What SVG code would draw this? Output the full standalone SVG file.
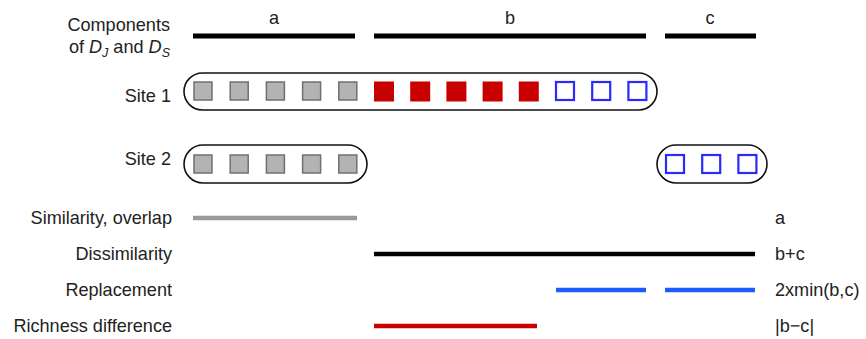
<svg xmlns="http://www.w3.org/2000/svg" width="866" height="339" viewBox="0 0 866 339">
<style>
text{font-family:"Liberation Sans",Arial,sans-serif;font-size:18.1px;fill:#222}
.r{text-anchor:end}
.m{text-anchor:middle}
.cap{fill:none;stroke:#111;stroke-width:1.6}
.g{fill:#b3b3b3;stroke:#707070;stroke-width:1.5}
.red{fill:#c80000}
.bl{fill:none;stroke:#2a2aff;stroke-width:2.2}
.bar{stroke:#000;stroke-width:5}
.ln{stroke-width:4.5}
</style>
<rect width="866" height="339" fill="#fff"/>
<g id="header">
<text class="r" x="170" y="31">Components</text>
<text class="r" x="170" y="53">of <tspan font-style="italic">D</tspan><tspan font-style="italic" font-size="12.5" dy="4">J</tspan><tspan dy="-4"> and </tspan><tspan font-style="italic">D</tspan><tspan font-style="italic" font-size="12.5" dy="4">S</tspan></text>
<text class="m" x="274" y="24">a</text>
<text class="m" x="510" y="24">b</text>
<text class="m" x="710" y="24">c</text>
</g>
<g id="components">
<line class="bar" x1="193" y1="36" x2="355" y2="36"/>
<line class="bar" x1="374" y1="36" x2="646" y2="36"/>
<line class="bar" x1="665" y1="36" x2="756" y2="36"/>
</g>
<g id="site1">
<text class="r" x="171" y="102">Site 1</text>
<rect class="cap" x="184" y="73" width="473" height="37" rx="18.5"/>
<rect class="g" x="194" y="82" width="18" height="18"/>
<rect class="g" x="230.2" y="82" width="18" height="18"/>
<rect class="g" x="266.4" y="82" width="18" height="18"/>
<rect class="g" x="302.6" y="82" width="18" height="18"/>
<rect class="g" x="338.8" y="82" width="18" height="18"/>
<rect class="red" x="374" y="81.5" width="20" height="20"/>
<rect class="red" x="410.2" y="81.5" width="20" height="20"/>
<rect class="red" x="446.4" y="81.5" width="20" height="20"/>
<rect class="red" x="482.6" y="81.5" width="20" height="20"/>
<rect class="red" x="518.8" y="81.5" width="20" height="20"/>
<rect class="bl" x="556" y="82" width="18" height="18"/>
<rect class="bl" x="592.2" y="82" width="18" height="18"/>
<rect class="bl" x="628.4" y="82" width="18" height="18"/>
</g>
<g id="site2">
<text class="r" x="171" y="165">Site 2</text>
<rect class="cap" x="184" y="145" width="183" height="38" rx="19"/>
<rect class="g" x="194" y="155" width="18" height="18"/>
<rect class="g" x="230.2" y="155" width="18" height="18"/>
<rect class="g" x="266.4" y="155" width="18" height="18"/>
<rect class="g" x="302.6" y="155" width="18" height="18"/>
<rect class="g" x="338.8" y="155" width="18" height="18"/>
<rect class="cap" x="657" y="145" width="110" height="38" rx="19"/>
<rect class="bl" x="666" y="155" width="18" height="18"/>
<rect class="bl" x="702.2" y="155" width="18" height="18"/>
<rect class="bl" x="738.4" y="155" width="18" height="18"/>
</g>
<g id="measures">
<text class="r" x="172" y="224">Similarity, overlap</text>
<text class="r" x="172" y="260">Dissimilarity</text>
<text class="r" x="172" y="296">Replacement</text>
<text class="r" x="172" y="332">Richness difference</text>
<text x="775" y="224">a</text>
<text x="775" y="260">b+c</text>
<text x="775" y="296">2xmin(b,c)</text>
<text x="775" y="332">|b−c|</text>
</g>
<g id="connectors">
<line class="ln" stroke="#999" x1="193" y1="218" x2="357" y2="218"/>
<line class="ln" stroke="#000" x1="374" y1="254" x2="755" y2="254"/>
<line class="ln" stroke="#1f5cff" x1="556" y1="290" x2="646" y2="290"/>
<line class="ln" stroke="#1f5cff" x1="665" y1="290" x2="755" y2="290"/>
<line class="ln" stroke="#c80000" x1="374" y1="326" x2="537" y2="326"/>
</g>
</svg>
